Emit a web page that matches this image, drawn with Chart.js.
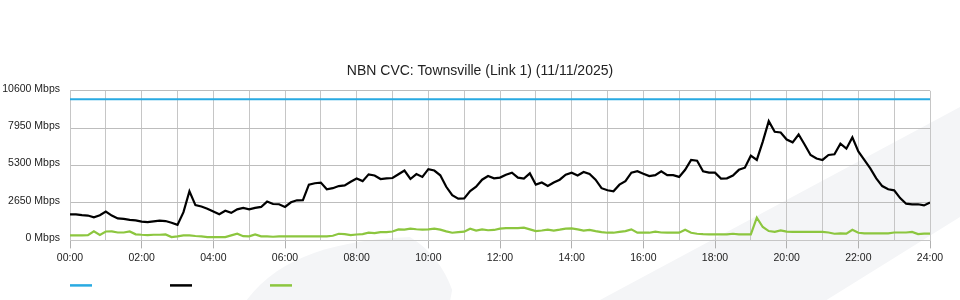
<!DOCTYPE html>
<html>
<head>
<meta charset="utf-8">
<script src="https://cdn.jsdelivr.net/npm/chart.js@4/dist/chart.umd.min.js"></script>
<style>
  html, body { margin: 0; padding: 0; background: #ffffff; }
  #wrap { width: 960px; height: 300px; position: relative; }
</style>
</head>
<body>
<div id="wrap"><canvas id="c" width="960" height="300"></canvas></div>
<script>
// ---- Data ----
const chartTitle = 'NBN CVC: Townsville (Link 1) (11/11/2025)';
const xTickLabels = ['00:00','02:00','04:00','06:00','08:00','10:00','12:00','14:00','16:00','18:00','20:00','22:00','24:00'];
const yTickValues = [0, 2650, 5300, 7950, 10600];
const seriesNames = ['Capacity', 'Download', 'Upload'];
const seriesColors = ['#29aae2', '#000000', '#8cc63f'];

// Samples every 10 minutes, 00:00 .. 24:00 (145 samples), in Mbps
const sampleMinutes = 10;
const capacityHours = [0, 24];
const capacityMbps = [10000, 10000];

const downloadMbps = [
  1850,1850,1790,1760,1640,1780,2050,1760,1560,1520,
  1450,1420,1330,1300,1350,1400,1370,1250,1100,2000,
  3480,2500,2400,2250,2050,1860,2100,1950,2200,2300,
  2200,2300,2370,2750,2580,2560,2370,2700,2840,2850,
  3950,4050,4100,3620,3700,3850,3900,4150,4380,4200,
  4680,4600,4350,4400,4420,4690,4950,4350,4700,4500,
  5050,4950,4615,3800,3200,2960,2980,3500,3800,4300,
  4560,4400,4450,4650,4800,4450,4380,4750,3950,4100,
  3850,4100,4300,4650,4800,4600,4850,4700,4300,3700,
  3550,3480,3950,4200,4800,4900,4720,4560,4620,4900,
  4620,4620,4500,5000,5700,5650,4900,4800,4800,4380,
  4400,4600,5000,5150,6000,5700,7000,8450,7700,7650,
  7150,6950,7500,6800,6050,5800,5700,6050,6100,6850,
  6500,7300,6300,5700,5100,4400,3850,3620,3550,3000,
  2600,2550,2560,2480,2680
];

const uploadMbps = [
  355,355,355,370,640,390,630,640,560,560,
  630,430,400,380,400,400,420,237,284,350,
  355,310,280,237,237,237,237,355,473,300,
  290,420,284,284,260,284,284,284,284,284,
  284,284,284,284,330,470,440,380,420,450,
  544,520,590,590,630,780,760,830,790,760,
  780,830,760,640,544,580,620,830,700,780,
  720,740,830,876,876,876,899,780,663,700,
  760,700,760,830,852,780,700,740,660,592,
  544,544,600,660,781,544,544,544,620,560,
  544,544,544,757,544,473,440,426,426,426,
  426,470,426,426,426,1610,947,663,600,710,
  620,600,600,600,600,600,600,560,473,500,
  480,757,544,500,500,500,500,500,560,560,
  560,600,450,473,473
];

// ---- Build chart ----
const FONT = "'Liberation Sans', Arial, Helvetica, sans-serif";
const toPoints = (vals) => vals.map((v, i) => ({ x: i * sampleMinutes / 60, y: v }));

const backdropPlugin = {
  id: 'backdrop',
  beforeDraw(chart) {
    const { ctx, width: W, height: H } = chart;
    ctx.save();
    ctx.fillStyle = '#f4f5f7';
    ctx.beginPath();
    ctx.moveTo(W * 0.257, H);
    ctx.bezierCurveTo(W * 0.292, H * 0.85, W * 0.354, H * 0.80, W * 0.427, H * 0.79);
    ctx.quadraticCurveTo(W * 0.458, H * 0.85, W * 0.471, H * 0.967);
    ctx.lineTo(W * 0.469, H);
    ctx.closePath();
    ctx.fill();
    ctx.beginPath();
    ctx.moveTo(W * 0.625, H);
    ctx.lineTo(W, H * 0.357);
    ctx.lineTo(W, H * 0.723);
    ctx.lineTo(W * 0.861, H);
    ctx.closePath();
    ctx.fill();
    ctx.restore();
  }
};

const legendKeyPlugin = {
  id: 'legendKeys',
  afterDraw(chart) {
    const { ctx, chartArea } = chart;
    ctx.save();
    ctx.lineWidth = 2.5;
    chart.data.datasets.forEach((ds, i) => {
      const x0 = chartArea.left + i * 100;
      const y = chartArea.bottom + 45;
      ctx.strokeStyle = ds.borderColor;
      ctx.beginPath();
      ctx.moveTo(x0, y);
      ctx.lineTo(x0 + 22, y);
      ctx.stroke();
    });
    ctx.restore();
  }
};

new Chart(document.getElementById('c'), {
  type: 'line',
  data: {
    datasets: [
      { label: seriesNames[0], data: capacityHours.map((h, i) => ({ x: h, y: capacityMbps[i] })),
        borderColor: seriesColors[0], backgroundColor: seriesColors[0], borderWidth: 2, pointRadius: 0 },
      { label: seriesNames[1], data: toPoints(downloadMbps),
        borderColor: seriesColors[1], backgroundColor: seriesColors[1], borderWidth: 2.2, pointRadius: 0 },
      { label: seriesNames[2], data: toPoints(uploadMbps),
        borderColor: seriesColors[2], backgroundColor: seriesColors[2], borderWidth: 2.2, pointRadius: 0 }
    ]
  },
  options: {
    responsive: false,
    animation: false,
    devicePixelRatio: 1,
    layout: { padding: { left: 0, right: 0, top: 0, bottom: 33 } },
    plugins: {
      legend: { display: false },
      tooltip: { enabled: false },
      title: {
        display: true,
        text: chartTitle,
        color: '#222',
        font: { family: FONT, size: 14, weight: 'normal', lineHeight: 1.2 },
        padding: { top: 63, bottom: 11 }
      }
    },
    scales: {
      x: {
        type: 'linear',
        min: 0, max: 24,
        ticks: {
          stepSize: 1,
          autoSkip: false,
          maxRotation: 0,
          padding: 3,
          color: '#222',
          font: { family: FONT, size: 10.5 },
          callback: (v) => (v % 2 === 0 ? xTickLabels[v / 2] : '')
        },
        grid: {
          color: '#c6c6c6',
          lineWidth: 1,
          tickLength: 8,
          tickColor: (ctx) => (ctx.tick && ctx.tick.value % 2 === 0 ? '#b0b0b0' : 'rgba(0,0,0,0)')
        },
        border: { display: true, color: '#c6c6c6' }
      },
      y: {
        min: 0, max: 10600,
        afterBuildTicks: (scale) => { scale.ticks = yTickValues.map(v => ({ value: v })); },
        afterFit: (scale) => { scale.width = 70; },
        ticks: {
          padding: 10,
          labelOffset: -2,
          color: '#222',
          font: { family: FONT, size: 10.5 },
          callback: (v) => v + ' Mbps'
        },
        grid: { color: '#bdbdbd', lineWidth: 1, drawTicks: false },
        border: { display: true, color: '#c6c6c6' }
      },
      yRight: {
        position: 'right',
        display: true,
        min: 0, max: 10600,
        afterFit: (scale) => { scale.width = 30; },
        ticks: { display: false },
        grid: { display: false, drawTicks: false },
        border: { display: false }
      }
    }
  },
  plugins: [backdropPlugin, legendKeyPlugin]
});
</script>
</body>
</html>
